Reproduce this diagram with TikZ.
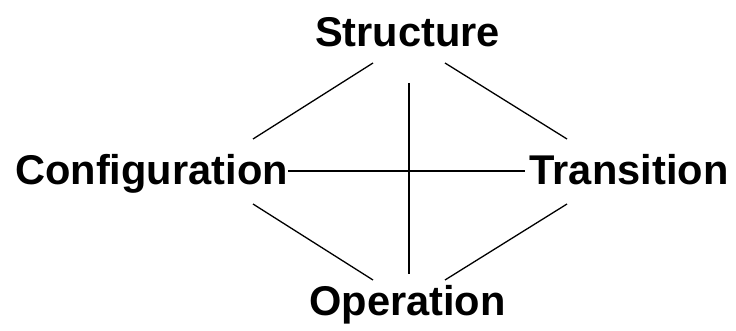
\documentclass[tikz,border=0pt]{standalone}
\usepackage{fontspec}
\setmainfont{Liberation Sans}
\begin{document}
\begin{tikzpicture}[x=1pt,y=-1pt,
  term/.style={font=\fontsize{41.6}{48}\selectfont\bfseries, inner sep=0pt, anchor=base},
  link/.style={line width=1.3pt, line cap=butt}]
  \useasboundingbox (0,0) rectangle (736,331);
  % the four terms
  \node[term] (S) at (407.5,47) {Structure};
  \node[term] (C) at (151.5,185) {Configuration};
  \node[term] (T) at (629,185) {Transition};
  \node[term] (O) at (407.5,315) {Operation};
  % end points of the diagonal and vertical links
  \coordinate (sl) at (373,63);
  \coordinate (sr) at (445,63);
  \coordinate (sv) at (409,83);
  \coordinate (cu) at (253,139);
  \coordinate (cd) at (253,204);
  \coordinate (tu) at (567,139);
  \coordinate (td) at (567,204);
  \coordinate (ol) at (373,280);
  \coordinate (or) at (445,280);
  \coordinate (ov) at (409,274);
  % links
  \draw[link] (sl) -- (cu);
  \draw[link] (sr) -- (tu);
  \draw[link] (cd) -- (ol);
  \draw[link] (td) -- (or);
  \draw[link] (sv) -- (ov);
  \draw[link, shorten >=4pt] ([yshift=14pt]C.base east) -- ([yshift=14pt]T.base west);
\end{tikzpicture}
\end{document}
